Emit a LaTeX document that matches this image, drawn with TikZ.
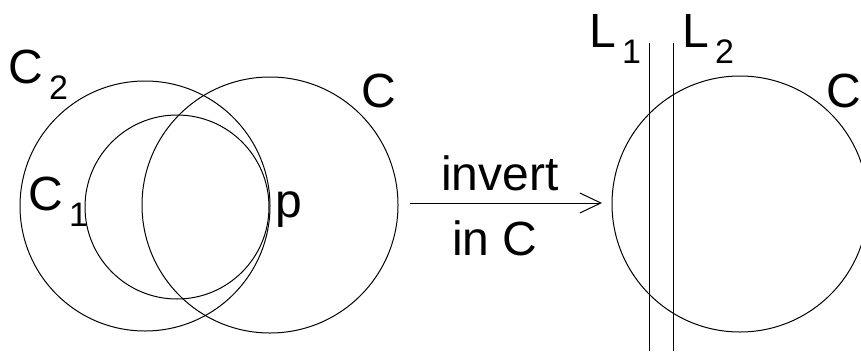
\documentclass[tikz,border=0pt]{standalone}
\usepackage{fontspec}
\setmainfont{Liberation Sans}
\usetikzlibrary{arrows.meta}
\newcommand{\subname}[2]{#1\kern6pt\lower16pt\hbox{\fontsize{34}{34}\selectfont #2}}
\tikzset{lbl/.style={inner sep=0pt,anchor=base west,font=\fontsize{48}{48}\selectfont}}
\begin{document}
\begin{tikzpicture}[x=1pt,y=-1pt,line width=1pt]
%
	\useasboundingbox (0,0) rectangle (861,351);
	\draw (145,206) circle (125);
	\draw (177,207) circle (92);
	\draw (270,205) circle (128);
	\node[lbl] (c2) at (8,83) {\subname{C}{2}};
	\node[lbl] (c1) at (28,210) {\subname{C}{1}};
	\node[lbl] (p) at (275,217) {p};
	\node[lbl] (cl) at (361,107) {C};
%
	\coordinate (from) at (410,203);
	\coordinate (to) at (602,203);
	\draw[-{Straight Barb[length=21pt,width=20pt]}] (from) -- (to);
	\node[lbl,anchor=base] (inv) at (500,190) {invert};
	\node[lbl,anchor=base] (inc) at (495,255) {in C};
%
	\draw (740,204) circle (128);
	\draw (649,43) -- (649,351);
	\draw (673,43) -- (673,351);
	\node[lbl] (l1) at (589,47) {\subname{L}{1}};
	\node[lbl] (l2) at (682,47) {\subname{L}{2}};
	\node[lbl] (cr) at (826,107) {C};
%
\end{tikzpicture}
\end{document}
